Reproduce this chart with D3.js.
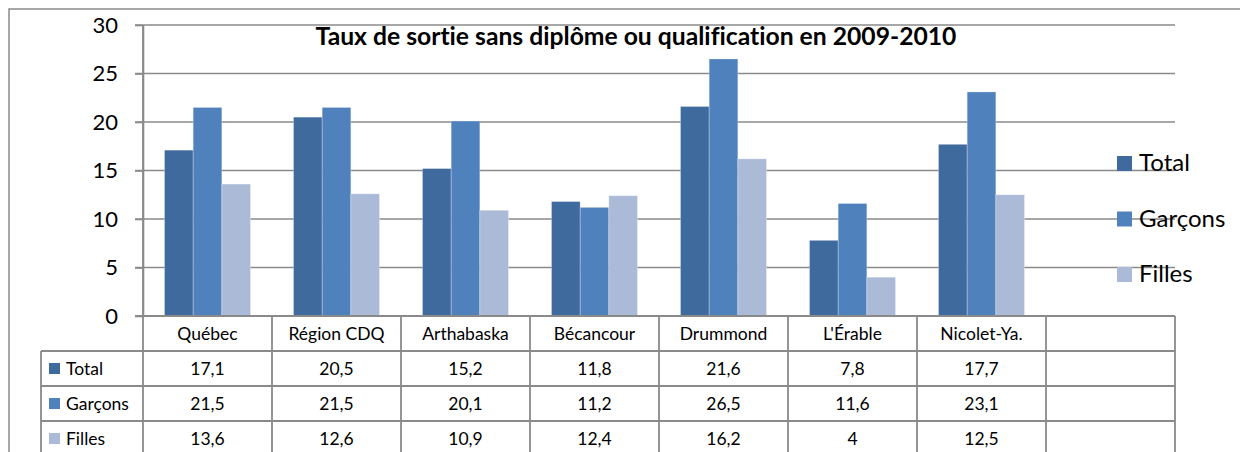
<!DOCTYPE html>
<html>
<head>
<meta charset="utf-8">
<script src="https://cdn.jsdelivr.net/npm/d3@7"></script>
<style>
  body { margin: 0; background: #fff; }
  text { font-family: Lato, "Open Sans", sans-serif; fill: #000; font-variant-ligatures: none; }
</style>
</head>
<body>
<script>
// Data
const categories = ["Québec", "Région CDQ", "Arthabaska", "Bécancour", "Drummond", "L'Érable", "Nicolet-Ya.", ""];
const seriesNames = ["Total", "Garçons", "Filles"];
const totalValues = [17.1, 20.5, 15.2, 11.8, 21.6, 7.8, 17.7];
const garconsValues = [21.5, 21.5, 20.1, 11.2, 26.5, 11.6, 23.1];
const fillesValues = [13.6, 12.6, 10.9, 12.4, 16.2, 4, 12.5];
const yTicks = [0, 5, 10, 15, 20, 25, 30];
const title = "Taux de sortie sans diplôme ou qualification en 2009-2010";

const seriesValues = [totalValues, garconsValues, fillesValues];
const colors = ["#3F6A9D", "#4F81BD", "#AABAD7"];

// Layout
const W = 1240, H = 452;
const PLOT = { left: 143, right: 1175, top: 25, bottom: 316 };
const TABLE_LEFT = 41;
const ROW_H = 35;
const GRID = "#8a8a8a";
const CELL_FONT = 17.5;

const svg = d3.select("body").append("svg")
  .attr("width", W)
  .attr("height", H);

// Scales
const x = d3.scaleBand()
  .domain(categories)
  .range([PLOT.left, PLOT.right])
  .paddingInner(0)
  .paddingOuter(0);

const xInner = d3.scaleBand()
  .domain(seriesNames)
  .range([0, x.bandwidth()])
  .paddingInner(0)
  .paddingOuter(0.75);

const y = d3.scaleLinear()
  .domain([0, 30])
  .range([PLOT.bottom, PLOT.top]);

const rows = ["header"].concat(seriesNames);
const rowY = d3.scaleBand()
  .domain(rows)
  .range([PLOT.bottom, PLOT.bottom + ROW_H * rows.length]);

// Outer frame (left and top edges)
svg.append("path")
  .attr("d", `M9,${H} V9 H${W}`)
  .attr("fill", "none")
  .attr("stroke", GRID)
  .attr("stroke-width", 1.5);

// Gridlines
svg.append("g")
  .selectAll("line")
  .data(yTicks.filter(d => d > 0))
  .join("line")
  .attr("x1", PLOT.left - 8)
  .attr("x2", PLOT.right)
  .attr("y1", d => y(d))
  .attr("y2", d => y(d))
  .attr("stroke", GRID)
  .attr("stroke-width", 1.6);

// Y axis
const yAxis = svg.append("g")
  .attr("transform", `translate(${PLOT.left},0)`)
  .call(d3.axisLeft(y).tickValues(yTicks).tickSize(8).tickPadding(17).tickSizeOuter(0));
yAxis.select(".domain").attr("stroke", GRID).attr("stroke-width", 1.6);
yAxis.selectAll(".tick line").attr("stroke", GRID).attr("stroke-width", 1.6);
yAxis.selectAll(".tick text")
  .attr("font-family", "Lato, sans-serif")
  .attr("font-size", 22)
  .attr("fill", "#000");

// Bars
const groups = svg.append("g")
  .selectAll("g")
  .data(seriesNames)
  .join("g")
  .attr("fill", (d, i) => colors[i]);

groups.selectAll("rect")
  .data((s, i) => seriesValues[i].map((v, j) => ({ s, v, c: categories[j] })))
  .join("rect")
  .attr("x", d => x(d.c) + xInner(d.s))
  .attr("width", xInner.bandwidth())
  .attr("y", d => y(d.v))
  .attr("height", d => y(0) - y(d.v))
  .attr("stroke", "#ffffff")
  .attr("stroke-opacity", 0.35)
  .attr("stroke-width", 0.8);

// Data table
const table = svg.append("g");
const tableBottom = PLOT.bottom + ROW_H * rows.length;

// horizontal lines
table.selectAll("line.h")
  .data(rows)
  .join("line")
  .attr("class", "h")
  .attr("x1", (d, i) => i === 0 ? PLOT.left - 8 : TABLE_LEFT)
  .attr("x2", PLOT.right)
  .attr("y1", d => rowY(d))
  .attr("y2", d => rowY(d))
  .attr("stroke", GRID)
  .attr("stroke-width", 1.8);

// vertical lines
const colEdges = categories.map(c => x(c)).concat([PLOT.right]);
table.selectAll("line.v")
  .data(colEdges)
  .join("line")
  .attr("class", "v")
  .attr("x1", d => d)
  .attr("x2", d => d)
  .attr("y1", (d, i) => i === 0 ? PLOT.top : PLOT.bottom)
  .attr("y2", tableBottom)
  .attr("stroke", GRID)
  .attr("stroke-width", 1.8);

table.append("line")
  .attr("x1", TABLE_LEFT).attr("x2", TABLE_LEFT)
  .attr("y1", rowY("Total")).attr("y2", tableBottom)
  .attr("stroke", GRID)
  .attr("stroke-width", 1.8);

// header labels
table.selectAll("text.cat")
  .data(categories)
  .join("text")
  .attr("class", "cat")
  .attr("x", d => x(d) + x.bandwidth() / 2)
  .attr("y", rowY("header") + rowY.bandwidth() / 2)
  .attr("dy", "0.36em")
  .attr("text-anchor", "middle")
  .attr("font-size", CELL_FONT)
  .text(d => d);

// row labels with keys
const rowLab = table.selectAll("g.rowlab")
  .data(seriesNames)
  .join("g")
  .attr("class", "rowlab")
  .attr("transform", d => `translate(${TABLE_LEFT}, ${rowY(d) + rowY.bandwidth() / 2})`);
rowLab.append("rect")
  .attr("x", 8).attr("y", -5.5)
  .attr("width", 11).attr("height", 11)
  .attr("fill", (d, i) => colors[i]);
rowLab.append("text")
  .attr("x", 25)
  .attr("dy", "0.36em")
  .attr("font-size", CELL_FONT)
  .text(d => d);

// values
const fmt = v => String(v).replace(".", ",");
seriesNames.forEach((s, i) => {
  table.selectAll(`text.val${i}`)
    .data(seriesValues[i])
    .join("text")
    .attr("class", `val${i}`)
    .attr("x", (d, j) => x(categories[j]) + x.bandwidth() / 2)
    .attr("y", rowY(s) + rowY.bandwidth() / 2)
    .attr("dy", "0.36em")
    .attr("text-anchor", "middle")
    .attr("font-size", CELL_FONT)
    .text(d => fmt(d));
});

// Legend
const legend = svg.append("g")
  .selectAll("g")
  .data(seriesNames)
  .join("g")
  .attr("transform", (d, i) => `translate(1117, ${171 + i * 55.5})`);
legend.append("rect")
  .attr("x", 0).attr("y", -15)
  .attr("width", 15).attr("height", 15)
  .attr("fill", (d, i) => colors[i]);
legend.append("text")
  .attr("x", 22)
  .attr("y", 0)
  .attr("font-size", 24)
  .text(d => d);

// Title, fitted to the original width
const t = svg.append("text")
  .attr("x", 636)
  .attr("y", 45)
  .attr("text-anchor", "middle")
  .attr("font-weight", "bold")
  .attr("font-size", 22)
  .text(title);
const len = t.node().getComputedTextLength();
t.attr("font-size", 22 * 641 / len);
</script>
</body>
</html>
